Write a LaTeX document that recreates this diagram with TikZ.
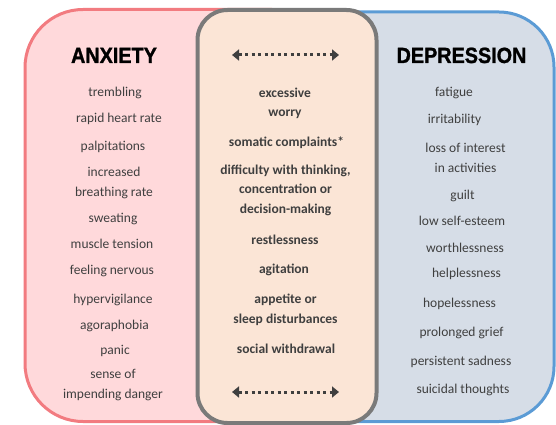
\documentclass[tikz,border=0pt]{standalone}
\usepackage{fontspec}
\setmainfont{Carlito}
\newfontfamily\hdrfont[FakeStretch=0.9,BoldFeatures={FakeBold=1.2}]{Liberation Sans}
\usetikzlibrary{arrows.meta}
\definecolor{pinkfill}{HTML}{FFD9DB}
\definecolor{pinkline}{HTML}{F27B80}
\definecolor{bluefill}{HTML}{D6DDE7}
\definecolor{blueline}{HTML}{5B9BD5}
\definecolor{midfill}{HTML}{FBE5D6}
\definecolor{midline}{HTML}{7A7A7A}
\definecolor{txt}{HTML}{3F3F3F}
\begin{document}
\begin{tikzpicture}[x=1pt,y=-1pt,
  pinkbox/.style={draw=pinkline,fill=pinkfill,line width=3pt,rounded corners=58pt},
  bluebox/.style={draw=blueline,fill=bluefill,line width=3pt,rounded corners=55pt},
  midbox/.style={draw=midline,fill=midfill,line width=4pt,rounded corners=30pt},
  hdr/.style={font=\hdrfont\bfseries\fontsize{22}{24}\selectfont,text=black,inner sep=0pt,anchor=base},
  sym/.style={font=\fontsize{13.5}{19.5}\selectfont,text=txt,inner sep=0pt,anchor=base,align=center},
  shared/.style={font=\bfseries\fontsize{13.5}{19.5}\selectfont,text=txt,inner sep=0pt,anchor=base,align=center},
  dotarrow/.style={draw=txt,line width=3pt,dash pattern=on 3pt off 3.5pt,
    {Triangle[length=7pt,width=11pt]}-{Triangle[length=7pt,width=11pt]}}
]
\useasboundingbox (0,0) rectangle (556,425);
% boxes
\draw[pinkbox] (25,9.5) rectangle (330,421.5);
\draw[bluebox] (240,12) rectangle (554,421.5);
\draw[midbox] (197.5,10) rectangle (376.5,423);
% headers
\node[hdr] (anx) at (114,63) {ANXIETY};
\node[hdr] (dep) at (461.5,63) {DEPRESSION};
% anxiety (multi-line nodes: anchored at the baseline of their last line)
\node[sym] (a1) at (115,97) {trembling};
\node[sym] (a2) at (119,122) {rapid heart rate};
\node[sym] (a3) at (113,150) {palpitations};
\node[sym] (a4) at (114,196) {increased\\breathing rate};
\node[sym] (a5) at (113,222) {sweating};
\node[sym] (a6) at (112,248) {muscle tension};
\node[sym] (a7) at (112,274) {feeling nervous};
\node[sym] (a8) at (113,303) {hypervigilance};
\node[sym] (a9) at (114.5,329) {agoraphobia};
\node[sym] (a10) at (115,354) {panic};
\node[sym] (a11) at (113,398) {sense of\\impending danger};
% shared
\coordinate (t1) at (232,55);
\coordinate (t2) at (339,55);
\draw[dotarrow] (t1) -- (t2);
\node[shared] (m1) at (285,117) {excessive\\worry};
\node[shared] (m2) at (286.5,146) {somatic complaints*};
\node[shared] (m3) at (285.5,213) {difficulty with thinking,\\concentration or\\decision-making};
\node[shared] (m4) at (285,244) {restlessness};
\node[shared] (m5) at (284,273) {agitation};
\node[shared] (m6) at (285.5,323) {appetite or\\sleep disturbances};
\node[shared] (m7) at (286,353) {social withdrawal};
\coordinate (b1) at (232,392);
\coordinate (b2) at (339,392);
\draw[dotarrow] (b1) -- (b2);
% depression
\node[sym] (d1) at (454,97) {fatigue};
\node[sym] (d2) at (454.5,123) {irritability};
\node[sym] (d3) at (465.5,172) {loss of interest\\in activities};
\node[sym] (d4) at (462.5,199) {guilt};
\node[sym] (d5) at (462,225) {low self-esteem};
\node[sym] (d6) at (465,252) {worthlessness};
\node[sym] (d7) at (466.5,277) {helplessness};
\node[sym] (d8) at (459.5,307) {hopelessness};
\node[sym] (d9) at (461.5,336) {prolonged grief};
\node[sym] (d10) at (461,365) {persistent sadness};
\node[sym] (d11) at (463,393) {suicidal thoughts};
\end{tikzpicture}
\end{document}
